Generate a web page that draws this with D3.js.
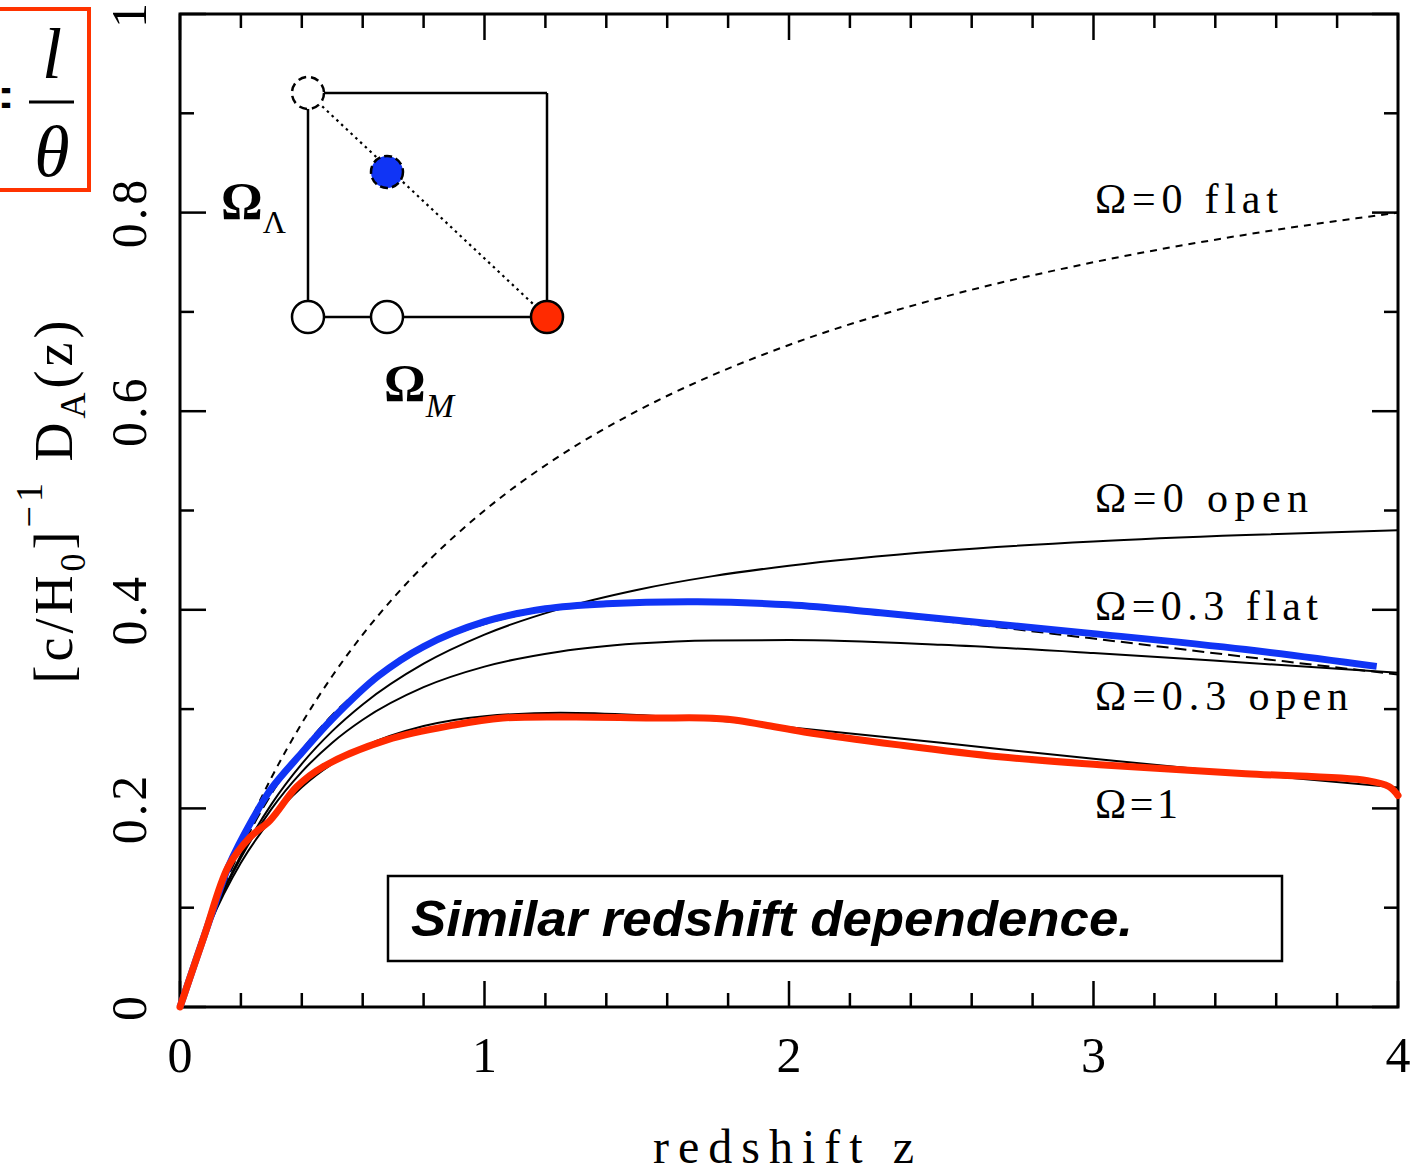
<!DOCTYPE html>
<html><head><meta charset="utf-8">
<script src="https://cdn.jsdelivr.net/npm/d3@7"></script>
<style>body{margin:0;background:#fff}svg{display:block}</style>
</head><body>
<svg id="c" width="1415" height="1176"></svg>
<script>
// ---- data ----
const zGrid = [0,0.1,0.2,0.3,0.4,0.5,0.6,0.8,1.0,1.25,1.5,1.75,2.0,2.5,3.0,3.5,4.0];
const omega0Flat  = [0,0.0909,0.1667,0.2308,0.2857,0.3333,0.375,0.4444,0.5,0.5556,0.6,0.6364,0.6667,0.7143,0.75,0.7778,0.8];
const omega0Open  = [0,0.0868,0.1528,0.2041,0.2449,0.2778,0.3047,0.3457,0.375,0.4012,0.42,0.4339,0.4444,0.4592,0.4688,0.4753,0.48];
const omega03Flat = [0,0.0888,0.1589,0.2145,0.2588,0.2940,0.3220,0.3616,0.3857,0.4016,0.4076,0.4073,0.4032,0.3888,0.3710,0.3526,0.3349];
const omega03Open = [0,0.0861,0.1504,0.1992,0.2368,0.2662,0.2893,0.3221,0.3428,0.3581,0.3660,0.3692,0.3695,0.3648,0.3565,0.3467,0.3365];
const omega1      = [0,0.0846,0.1452,0.1891,0.2212,0.2447,0.2618,0.2829,0.2929,0.2963,0.2940,0.2887,0.2818,0.2660,0.25,0.2349,0.2211];

const blueZ = [0,0.1,0.16,0.24,0.3,0.4,0.5,0.65,0.8,1.0,1.2,1.4,1.7,2.0,2.3,2.7,3.0,3.5,3.93];
const blueV = [0,0.09,0.142,0.19,0.22,0.256,0.29,0.333,0.363,0.388,0.401,0.406,0.408,0.405,0.397,0.385,0.376,0.36,0.343];
const redZ  = [0,0.08,0.158,0.23,0.296,0.384,0.47,0.68,0.9,1.06,1.3,1.55,1.72,1.82,1.92,2.05,2.36,2.69,3.02,3.5,3.9,3.97,4.0];
const redV  = [0,0.072,0.141,0.171,0.188,0.222,0.242,0.269,0.284,0.291,0.292,0.291,0.291,0.289,0.284,0.277,0.264,0.252,0.244,0.235,0.228,0.222,0.213];

const xMajor = [0,1,2,3,4];
const xMinor = [0.2,0.4,0.6,0.8,1.2,1.4,1.6,1.8,2.2,2.4,2.6,2.8,3.2,3.4,3.6,3.8];
const yMajor = [0,0.2,0.4,0.6,0.8,1];
const yMinor = [0.1,0.3,0.5,0.7,0.9];
const yLabels = ["0","0.2","0.4","0.6","0.8","1"];
const curveLabels = [
  {text:"Ω=0 flat", v:0.800, w:183},
  {text:"Ω=0 open", v:0.498, w:213},
  {text:"Ω=0.3 flat", v:0.390, w:223},
  {text:"Ω=0.3 open", v:0.299, w:253},
  {text:"Ω=1", v:0.190, w:83}
];

// ---- drawing ----
const svg = d3.select("#c");
svg.append("rect").attr("width",1415).attr("height",1176).attr("fill","#fff");
const x = d3.scaleLinear().domain([0,4]).range([180,1398]);
const y = d3.scaleLinear().domain([0,1]).range([1007,14]);
const serif = "'Liberation Serif','DejaVu Serif',serif";
const BLUE = "#1034f5", RED = "#ff2a00";

const g = svg.append("g");
// frame
g.append("rect").attr("x",x(0)).attr("y",y(1)).attr("width",x(4)-x(0)).attr("height",y(0)-y(1))
  .attr("fill","none").attr("stroke","#000").attr("stroke-width",3);

// ticks (inward on all four sides)
function ticksX(vals,len){
  vals.forEach(v=>{
    g.append("line").attr("x1",x(v)).attr("x2",x(v)).attr("y1",y(0)).attr("y2",y(0)-len).attr("stroke","#000").attr("stroke-width",2.5);
    g.append("line").attr("x1",x(v)).attr("x2",x(v)).attr("y1",y(1)).attr("y2",y(1)+len).attr("stroke","#000").attr("stroke-width",2.5);
  });
}
function ticksY(vals,len){
  vals.forEach(v=>{
    g.append("line").attr("y1",y(v)).attr("y2",y(v)).attr("x1",x(0)).attr("x2",x(0)+len).attr("stroke","#000").attr("stroke-width",2.5);
    g.append("line").attr("y1",y(v)).attr("y2",y(v)).attr("x1",x(4)).attr("x2",x(4)-len).attr("stroke","#000").attr("stroke-width",2.5);
  });
}
ticksX(xMajor,26); ticksX(xMinor,14);
ticksY(yMajor,26); ticksY(yMinor,14);

// x tick labels
xMajor.forEach(v=>{
  g.append("text").attr("x",x(v)).attr("y",1072).attr("text-anchor","middle")
   .attr("font-family",serif).attr("font-size",50).text(String(v));
});
// y tick labels (rotated)
yMajor.forEach((v,i)=>{
  g.append("text").attr("transform",`translate(146,${y(v)}) rotate(-90)`).attr("text-anchor","middle")
   .attr("font-family",serif).attr("font-size",50).attr("letter-spacing",3).text(yLabels[i]);
});

// axis titles
g.append("text").attr("x",788).attr("y",1163).attr("text-anchor","middle")
 .attr("font-family",serif).attr("font-size",48).attr("letter-spacing",9).text("redshift z");

const yt = g.append("text").attr("transform","translate(72,500) rotate(-90)").attr("text-anchor","middle")
 .attr("font-family",serif).attr("font-size",54).attr("letter-spacing",4);
yt.append("tspan").text("[c/H");
yt.append("tspan").attr("font-size",36).attr("dy",13).text("0");
yt.append("tspan").attr("dy",-13).text("]");
yt.append("tspan").attr("font-size",38).attr("dy",-30).text("−1");
yt.append("tspan").attr("dy",30).text(" D");
yt.append("tspan").attr("font-size",36).attr("dy",13).text("A");
yt.append("tspan").attr("dy",-13).text("(z)");

// curves
const lineOf = (zs,vs,cv)=> d3.line().curve(cv||d3.curveMonotoneX)(zs.map((z,i)=>[x(z),y(vs[i])]));
const black = [
  {v:omega0Flat, dash:"7,6"},
  {v:omega0Open, dash:null},
  {v:omega03Flat, dash:"12,6"},
  {v:omega03Open, dash:null},
  {v:omega1, dash:null}
];
black.forEach(c=>{
  g.append("path").attr("d",lineOf(zGrid,c.v)).attr("fill","none").attr("stroke","#000")
   .attr("stroke-width",2).attr("stroke-dasharray",c.dash);
});
const smooth = d3.curveCatmullRom.alpha(0.5);
g.append("path").attr("d",lineOf(blueZ,blueV,smooth)).attr("fill","none").attr("stroke",BLUE).attr("stroke-width",7).attr("stroke-linecap","butt");
g.append("path").attr("d",lineOf(redZ,redV,smooth)).attr("fill","none").attr("stroke",RED).attr("stroke-width",7).attr("stroke-linecap","round");

// curve labels
curveLabels.forEach(l=>{
  g.append("text").attr("x",1095).attr("y",y(l.v)).attr("font-family",serif).attr("font-size",42)
   .attr("textLength",l.w).attr("lengthAdjust","spacing").text(l.text);
});

// text box
g.append("rect").attr("x",388).attr("y",876).attr("width",894).attr("height",85)
 .attr("fill","#fff").attr("stroke","#000").attr("stroke-width",2.5);
g.append("text").attr("x",411).attr("y",936).attr("font-family","'Liberation Sans',Arial,sans-serif")
 .attr("font-size",50).attr("font-weight","bold").attr("font-style","italic")
 .attr("textLength",722).attr("lengthAdjust","spacingAndGlyphs").text("Similar redshift dependence.");

// inset diagram
const ins = svg.append("g");
const P = {tl:[308,93], bl:[308,317], bm:[387,317], br:[547,317], tr:[547,93], bl2:[387,172]};
const R = 16;
const ln = (a,b,extra)=>{const l=ins.append("line").attr("x1",a[0]).attr("y1",a[1]).attr("x2",b[0]).attr("y2",b[1]).attr("stroke","#000").attr("stroke-width",2.5); if(extra) l.attr("stroke-dasharray",extra); return l;};
ln(P.tl,P.bl); ln(P.tl,P.tr); ln(P.tr,P.br); ln(P.bl,P.br);
ln(P.tl,P.br,"2.5,4").attr("stroke-width",2.2);
ins.append("circle").attr("cx",P.tl[0]).attr("cy",P.tl[1]).attr("r",R).attr("fill","#fff").attr("stroke","#000").attr("stroke-width",2.5).attr("stroke-dasharray","8,5");
ins.append("circle").attr("cx",P.bl[0]).attr("cy",P.bl[1]).attr("r",R).attr("fill","#fff").attr("stroke","#000").attr("stroke-width",2.5);
ins.append("circle").attr("cx",P.bm[0]).attr("cy",P.bm[1]).attr("r",R).attr("fill","#fff").attr("stroke","#000").attr("stroke-width",2.5);
ins.append("circle").attr("cx",P.br[0]).attr("cy",P.br[1]).attr("r",R).attr("fill",RED).attr("stroke","#000").attr("stroke-width",2.5);
ins.append("circle").attr("cx",P.bl2[0]).attr("cy",P.bl2[1]).attr("r",R).attr("fill",BLUE).attr("stroke","#000").attr("stroke-width",2.5).attr("stroke-dasharray","8,4");

const tL = ins.append("text").attr("x",221).attr("y",219).attr("font-family",serif).attr("font-size",52).attr("font-weight","bold");
tL.append("tspan").text("Ω");
tL.append("tspan").attr("font-size",32).attr("font-weight","normal").attr("dy",14).text("Λ");
const tM = ins.append("text").attr("x",384).attr("y",401).attr("font-family",serif).attr("font-size",52).attr("font-weight","bold");
tM.append("tspan").text("Ω");
tM.append("tspan").attr("font-size",34).attr("font-weight","normal").attr("font-style","italic").attr("dy",16).text("M");

// red formula box (its left side lies past the page edge, as in the source)
const fb = svg.append("g");
fb.append("rect").attr("x",-20).attr("y",9).attr("width",109).attr("height",181).attr("fill","none").attr("stroke","#ff3300").attr("stroke-width",4);
fb.append("text").attr("transform","translate(1,123) scale(0.24,1)").attr("font-family",serif).attr("font-size",74).attr("font-weight","bold").text("=");
fb.append("text").attr("x",52).attr("y",78).attr("text-anchor","middle").attr("font-family",serif).attr("font-style","italic").attr("font-size",72).text("l");
fb.append("line").attr("x1",29).attr("x2",74).attr("y1",102).attr("y2",102).attr("stroke","#000").attr("stroke-width",3);
fb.append("text").attr("x",52).attr("y",176).attr("text-anchor","middle").attr("font-family",serif).attr("font-style","italic").attr("font-size",72).text("θ");
</script>
</body></html>
